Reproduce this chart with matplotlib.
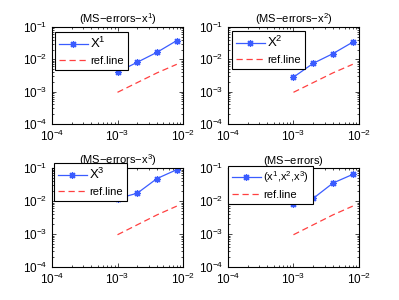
import matplotlib
matplotlib.use("Agg")
import matplotlib.pyplot as plt
import numpy as np

plt.rcParams["font.family"] = ["Liberation Sans", "DejaVu Sans"]
plt.rcParams["mathtext.fontset"] = "custom"
plt.rcParams["mathtext.rm"] = "Liberation Sans"
plt.rcParams["mathtext.it"] = "Liberation Sans"

# step sizes and errors
h = [1e-3, 2e-3, 4e-3, 8e-3]
ref_line = [9.5e-4, 1.9e-3, 3.8e-3, 7.0e-3]
err_x1 = [4.0e-3, 8.1e-3, 1.65e-2, 3.8e-2]
err_x2 = [2.8e-3, 7.5e-3, 1.5e-2, 3.4e-2]
err_x3 = [1.18e-2, 1.72e-2, 4.8e-2, 8.9e-2]
err_all = [8.1e-3, 1.2e-2, 3.5e-2, 6.4e-2]

titles = ["(MS$-$errors$-$x$^1$)", "(MS$-$errors$-$x$^2$)",
          "(MS$-$errors$-$x$^3$)", "(MS$-$errors)"]
labels = ["X$^1$", "X$^2$", "X$^3$", "(x$^1$,x$^2$,x$^3$)"]
series = [err_x1, err_x2, err_x3, err_all]

# axes rectangles (fig fraction) and legend anchors (axes fraction)
rects = [[0.130, 0.587, 0.329, 0.323], [0.571, 0.587, 0.329, 0.323],
         [0.130, 0.110, 0.329, 0.330], [0.571, 0.110, 0.329, 0.330]]
anchors = [(0.023, 0.95), (0.03, 0.96), (0.015, 1.05), (0.0, 1.025)]

blue = "#3a5cff"
red = "#ff4040"
star = (8, 2, 0)

fig = plt.figure(figsize=(3.99, 3.0), dpi=100)
for i in range(4):
    ax = fig.add_axes(rects[i])
    ax.loglog(h, series[i], color=blue, lw=0.9, marker=star, ms=5, mew=0.9,
              label=labels[i])
    ax.loglog(h, ref_line, color=red, lw=0.9, ls=(0, (5, 3)), label="ref.line")
    ax.set_xlim(1e-4, 1e-2)
    ax.set_ylim(1e-4, 1e-1)
    ax.set_title(titles[i], fontsize=8, pad=3)
    ax.tick_params(which="both", direction="in", top=True, right=True,
                   labelsize=8.5, width=0.5)
    ax.tick_params(which="major", length=3)
    ax.tick_params(which="minor", length=1.5)
    for s in ax.spines.values():
        s.set_linewidth(0.8)
    leg = ax.legend(loc="upper left", bbox_to_anchor=anchors[i], fontsize=8,
                    frameon=True, fancybox=False, borderaxespad=0,
                    handlelength=2.6, borderpad=0.35, labelspacing=0.45,
                    handletextpad=0.25, framealpha=1)
    leg.get_frame().set_edgecolor("black")
    leg.get_frame().set_linewidth(0.8)
    texts = leg.get_texts()
    if i < 3:
        texts[0].set_fontsize(9.5)

fig.savefig("out.png", dpi=100)
